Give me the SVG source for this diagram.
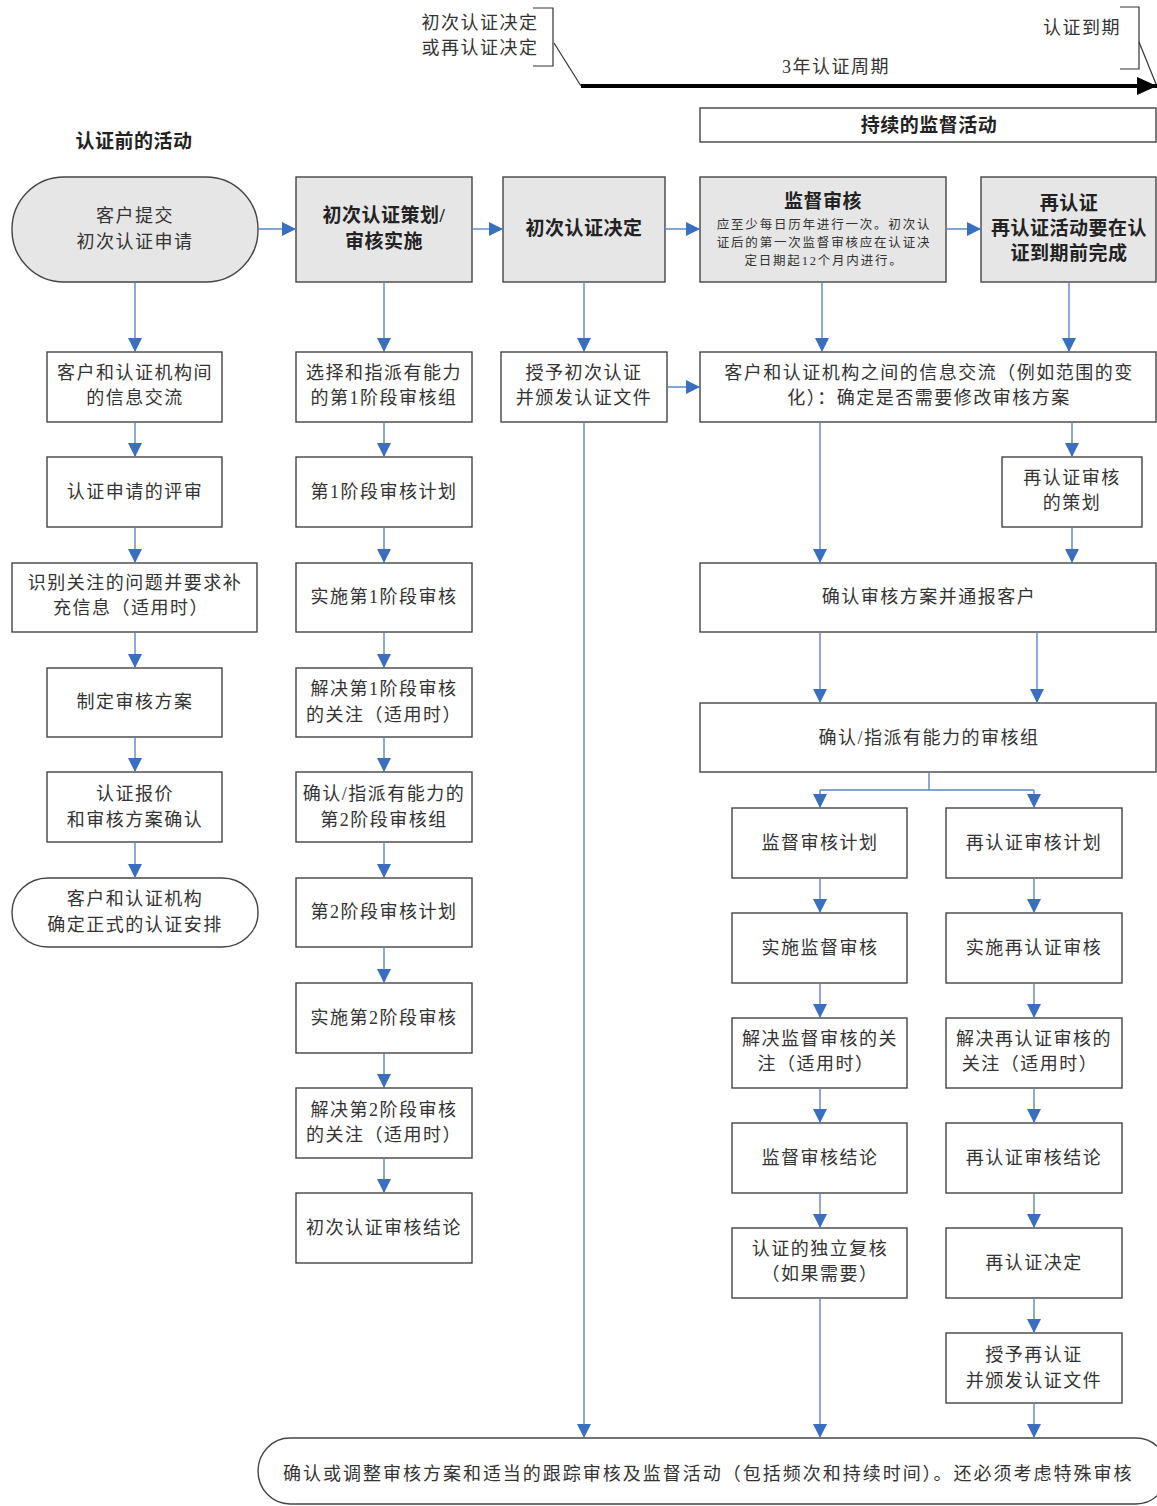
<svg xmlns="http://www.w3.org/2000/svg" width="1157" height="1506" viewBox="0 0 1157 1506">
<style>
text{font-family:"Liberation Serif","Noto Sans CJK SC",sans-serif;fill:#333;text-anchor:middle}
.t{font-size:18px;letter-spacing:1.5px}
.b{font-size:19px;font-weight:bold;letter-spacing:0.5px;fill:#222}
.s{font-size:12.5px;letter-spacing:1.8px}
.box{fill:#fff;stroke:#444;stroke-width:1.4}
.gbox{fill:#e6e6e6;stroke:#444;stroke-width:1.4}
.c{fill:none;stroke:#5b86c4;stroke-width:1.4;marker-end:url(#ah)}
.cl{fill:none;stroke:#5b86c4;stroke-width:1.4}
.br{fill:none;stroke:#333;stroke-width:1.2}
</style>
<defs>
<marker id="ah" markerUnits="userSpaceOnUse" markerWidth="14" markerHeight="14" refX="14" refY="7" orient="auto">
<path d="M0,0 L14,7 L0,14 z" fill="#3a6ec0"/>
</marker>
<marker id="bk" markerUnits="userSpaceOnUse" markerWidth="20" markerHeight="18" refX="20" refY="9" orient="auto">
<path d="M0,0 L20,9 L0,18 z" fill="#000"/>
</marker>
</defs>
<rect width="1157" height="1506" fill="#fff"/>

<g id="timeline">
<text class="t" x="480" y="29">初次认证决定</text>
<text class="t" x="480" y="54">或再认证决定</text>
<path class="br" d="M533,8 H553 V66 H533"/>
<path class="br" d="M554,43 L581,86"/>
<text class="t" x="1082" y="34">认证到期</text>
<path class="br" d="M1120,7 H1139 V69 H1120"/>
<path class="br" d="M1139,42 L1156,84"/>
<line x1="581" y1="86" x2="1157" y2="86" stroke="#000" stroke-width="4" marker-end="url(#bk)"/>
<text class="t" x="836" y="73">3年认证周期</text>
</g>

<g id="n-ongoing"><rect class="box" x="700" y="108" width="456" height="34"/><text class="b" x="929" y="132">持续的监督活动</text></g>
<g id="n-pre-title"><text class="b" x="134" y="148">认证前的活动</text></g>

<g id="n-apply"><rect class="gbox" x="12" y="177" width="246" height="105" rx="52" ry="52"/><text class="t" x="135" y="222">客户提交</text><text class="t" x="135" y="248">初次认证申请</text></g>
<g id="n-plan"><rect class="gbox" x="296" y="177" width="176" height="105"/><text class="b" x="384" y="222">初次认证策划/</text><text class="b" x="384" y="248">审核实施</text></g>
<g id="n-decide"><rect class="gbox" x="503" y="177" width="162" height="105"/><text class="b" x="584" y="235">初次认证决定</text></g>
<g id="n-surv"><rect class="gbox" x="700" y="177" width="246" height="105"/><text class="b" x="823" y="208">监督审核</text>
<text class="s" x="824" y="229">应至少每日历年进行一次。初次认</text><text class="s" x="824" y="247">证后的第一次监督审核应在认证决</text><text class="s" x="824" y="265">定日期起12个月内进行。</text></g>
<g id="n-recert"><rect class="gbox" x="981" y="177" width="175" height="105"/><text class="b" x="1069" y="210">再认证</text><text class="b" x="1069" y="235">再认证活动要在认</text><text class="b" x="1069" y="260">证到期前完成</text></g>

<g id="n-c1-1"><rect class="box" x="47" y="352" width="175" height="70"/><text class="t" x="135" y="379">客户和认证机构间</text><text class="t" x="135" y="404">的信息交流</text></g>
<g id="n-c1-2"><rect class="box" x="47" y="457" width="175" height="70"/><text class="t" x="135" y="498">认证申请的评审</text></g>
<g id="n-c1-3"><rect class="box" x="12" y="563" width="245" height="69"/><text class="t" x="135" y="589">识别关注的问题并要求补</text><text class="t" x="131" y="614">充信息（适用时）</text></g>
<g id="n-c1-4"><rect class="box" x="47" y="668" width="175" height="69"/><text class="t" x="135" y="708">制定审核方案</text></g>
<g id="n-c1-5"><rect class="box" x="47" y="772" width="175" height="70"/><text class="t" x="135" y="800">认证报价</text><text class="t" x="135" y="826">和审核方案确认</text></g>
<g id="n-c1-6"><rect class="box" x="12" y="878" width="246" height="69" rx="36" ry="34"/><text class="t" x="135" y="905">客户和认证机构</text><text class="t" x="135" y="931">确定正式的认证安排</text></g>

<g id="n-c2-1"><rect class="box" x="296" y="352" width="176" height="70"/><text class="t" x="384" y="379">选择和指派有能力</text><text class="t" x="384" y="404">的第1阶段审核组</text></g>
<g id="n-c2-2"><rect class="box" x="296" y="457" width="176" height="70"/><text class="t" x="384" y="498">第1阶段审核计划</text></g>
<g id="n-c2-3"><rect class="box" x="296" y="563" width="176" height="69"/><text class="t" x="384" y="603">实施第1阶段审核</text></g>
<g id="n-c2-4"><rect class="box" x="296" y="668" width="176" height="69"/><text class="t" x="384" y="695">解决第1阶段审核</text><text class="t" x="384" y="721">的关注（适用时）</text></g>
<g id="n-c2-5"><rect class="box" x="296" y="772" width="176" height="70"/><text class="t" x="384" y="800">确认/指派有能力的</text><text class="t" x="384" y="826">第2阶段审核组</text></g>
<g id="n-c2-6"><rect class="box" x="296" y="878" width="176" height="69"/><text class="t" x="384" y="918">第2阶段审核计划</text></g>
<g id="n-c2-7"><rect class="box" x="296" y="983" width="176" height="70"/><text class="t" x="384" y="1024">实施第2阶段审核</text></g>
<g id="n-c2-8"><rect class="box" x="296" y="1088" width="176" height="70"/><text class="t" x="384" y="1116">解决第2阶段审核</text><text class="t" x="384" y="1141">的关注（适用时）</text></g>
<g id="n-c2-9"><rect class="box" x="296" y="1193" width="176" height="70"/><text class="t" x="384" y="1234">初次认证审核结论</text></g>

<g id="n-grant"><rect class="box" x="501" y="352" width="166" height="70"/><text class="t" x="584" y="379">授予初次认证</text><text class="t" x="584" y="404">并颁发认证文件</text></g>

<g id="n-info"><rect class="box" x="700" y="352" width="456" height="70"/><text class="t" x="929" y="379">客户和认证机构之间的信息交流（例如范围的变</text><text class="t" x="929" y="404">化）：确定是否需要修改审核方案</text></g>
<g id="n-rplan"><rect class="box" x="1002" y="457" width="140" height="70"/><text class="t" x="1072" y="484">再认证审核</text><text class="t" x="1072" y="509">的策划</text></g>
<g id="n-confirm"><rect class="box" x="700" y="563" width="456" height="69"/><text class="t" x="929" y="603">确认审核方案并通报客户</text></g>
<g id="n-team"><rect class="box" x="700" y="703" width="456" height="69"/><text class="t" x="929" y="744">确认/指派有能力的审核组</text></g>

<g id="n-s1"><rect class="box" x="732" y="808" width="175" height="70"/><text class="t" x="820" y="849">监督审核计划</text></g>
<g id="n-s2"><rect class="box" x="732" y="913" width="175" height="70"/><text class="t" x="820" y="954">实施监督审核</text></g>
<g id="n-s3"><rect class="box" x="732" y="1018" width="175" height="70"/><text class="t" x="820" y="1045">解决监督审核的关</text><text class="t" x="816" y="1070">注（适用时）</text></g>
<g id="n-s4"><rect class="box" x="732" y="1123" width="175" height="70"/><text class="t" x="820" y="1164">监督审核结论</text></g>
<g id="n-s5"><rect class="box" x="732" y="1228" width="175" height="70"/><text class="t" x="820" y="1255">认证的独立复核</text><text class="t" x="820" y="1280">（如果需要）</text></g>

<g id="n-r1"><rect class="box" x="946" y="808" width="176" height="70"/><text class="t" x="1034" y="849">再认证审核计划</text></g>
<g id="n-r2"><rect class="box" x="946" y="913" width="176" height="70"/><text class="t" x="1034" y="954">实施再认证审核</text></g>
<g id="n-r3"><rect class="box" x="946" y="1018" width="176" height="70"/><text class="t" x="1034" y="1045">解决再认证审核的</text><text class="t" x="1030" y="1070">关注（适用时）</text></g>
<g id="n-r4"><rect class="box" x="946" y="1123" width="176" height="70"/><text class="t" x="1034" y="1164">再认证审核结论</text></g>
<g id="n-r5"><rect class="box" x="946" y="1228" width="176" height="70"/><text class="t" x="1034" y="1269">再认证决定</text></g>
<g id="n-r6"><rect class="box" x="946" y="1333" width="176" height="70"/><text class="t" x="1034" y="1361">授予再认证</text><text class="t" x="1034" y="1387">并颁发认证文件</text></g>

<g id="n-final"><rect class="box" x="258" y="1438" width="910" height="66" rx="32" ry="33"/><text class="t" x="708" y="1480" textLength="850" lengthAdjust="spacing">确认或调整审核方案和适当的跟踪审核及监督活动（包括频次和持续时间）。还必须考虑特殊审核</text></g>

<g id="connectors">
<line class="c" x1="258" y1="229" x2="296" y2="229"/>
<line class="c" x1="472" y1="229" x2="503" y2="229"/>
<line class="c" x1="665" y1="229" x2="700" y2="229"/>
<line class="c" x1="946" y1="229" x2="981" y2="229"/>

<line class="c" x1="135" y1="282" x2="135" y2="352"/>
<line class="c" x1="135" y1="422" x2="135" y2="457"/>
<line class="c" x1="135" y1="527" x2="135" y2="563"/>
<line class="c" x1="135" y1="632" x2="135" y2="668"/>
<line class="c" x1="135" y1="737" x2="135" y2="772"/>
<line class="c" x1="135" y1="842" x2="135" y2="878"/>

<line class="c" x1="384" y1="282" x2="384" y2="352"/>
<line class="c" x1="384" y1="422" x2="384" y2="457"/>
<line class="c" x1="384" y1="527" x2="384" y2="563"/>
<line class="c" x1="384" y1="632" x2="384" y2="668"/>
<line class="c" x1="384" y1="737" x2="384" y2="772"/>
<line class="c" x1="384" y1="842" x2="384" y2="878"/>
<line class="c" x1="384" y1="947" x2="384" y2="983"/>
<line class="c" x1="384" y1="1053" x2="384" y2="1088"/>
<line class="c" x1="384" y1="1158" x2="384" y2="1193"/>

<line class="c" x1="584" y1="282" x2="584" y2="352"/>
<line class="c" x1="667" y1="387" x2="700" y2="387"/>
<line class="c" x1="584" y1="422" x2="584" y2="1438"/>

<line class="c" x1="822" y1="282" x2="822" y2="352"/>
<line class="c" x1="1069" y1="282" x2="1069" y2="352"/>
<line class="c" x1="1072" y1="422" x2="1072" y2="457"/>
<line class="c" x1="820" y1="422" x2="820" y2="563"/>
<line class="c" x1="1072" y1="527" x2="1072" y2="563"/>
<line class="c" x1="820" y1="632" x2="820" y2="703"/>
<line class="c" x1="1037" y1="632" x2="1037" y2="703"/>
<path class="cl" d="M929,772 V790 M820,790 H1034"/>
<line class="c" x1="820" y1="790" x2="820" y2="808"/>
<line class="c" x1="1034" y1="790" x2="1034" y2="808"/>

<line class="c" x1="820" y1="878" x2="820" y2="913"/>
<line class="c" x1="820" y1="983" x2="820" y2="1018"/>
<line class="c" x1="820" y1="1088" x2="820" y2="1123"/>
<line class="c" x1="820" y1="1193" x2="820" y2="1228"/>
<line class="c" x1="820" y1="1298" x2="820" y2="1438"/>

<line class="c" x1="1034" y1="878" x2="1034" y2="913"/>
<line class="c" x1="1034" y1="983" x2="1034" y2="1018"/>
<line class="c" x1="1034" y1="1088" x2="1034" y2="1123"/>
<line class="c" x1="1034" y1="1193" x2="1034" y2="1228"/>
<line class="c" x1="1034" y1="1298" x2="1034" y2="1333"/>
<line class="c" x1="1034" y1="1403" x2="1034" y2="1438"/>
</g>
</svg>
